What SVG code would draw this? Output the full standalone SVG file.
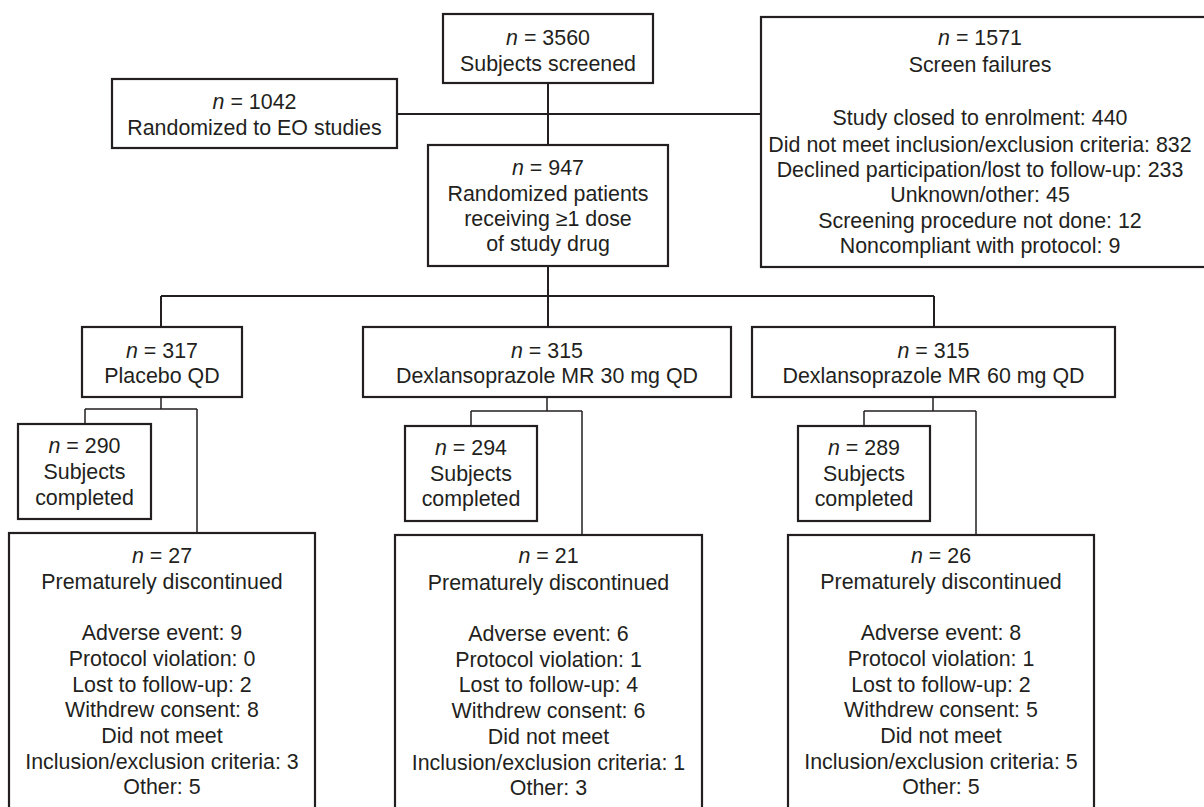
<svg xmlns="http://www.w3.org/2000/svg" width="1204" height="807" viewBox="0 0 1204 807">
<style>
.box{fill:#fff;stroke:#231f20;stroke-width:2.2}
.t{font-family:"Liberation Sans",Arial,Helvetica,sans-serif;font-size:21.4px;fill:#231f20;text-anchor:middle}
.i{font-style:italic}
.c{fill:none;stroke:#231f20;stroke-width:2}
.s{fill:none;stroke:#231f20;stroke-width:1.5}
</style>
<rect width="1204" height="807" fill="#fff"/>
<g id="connectors">
<path class="c" d="M548 83V145M397 114H761M548 266V327M161 296H934M161 296V327M934 296V327"/>
<path class="s" d="M161 397V409M85 409H197M85 409V424M197 409V533"/>
<path class="s" d="M547 397V411M471 411H582M471 411V426M582 411V535"/>
<path class="s" d="M933 397V411M864 411H976M864 411V426M976 411V535"/>
</g>
<g id="screened">
<rect class="box" x="443" y="14" width="210" height="69"/>
<text class="t" x="548" y="45"><tspan class="i">n</tspan> = 3560</text>
<text class="t" x="548" y="71">Subjects screened</text>
</g>
<g id="eo">
<rect class="box" x="112" y="79" width="285" height="69"/>
<text class="t" x="254.5" y="109"><tspan class="i">n</tspan> = 1042</text>
<text class="t" x="254.5" y="135">Randomized to EO studies</text>
</g>
<g id="failures">
<rect class="box" x="761" y="17" width="446" height="250"/>
<text class="t" x="980" y="45"><tspan class="i">n</tspan> = 1571</text>
<text class="t" x="980" y="71.5">Screen failures</text>
<text class="t" x="980" y="125">Study closed to enrolment: 440</text>
<text class="t" x="980" y="151.5">Did not meet inclusion/exclusion criteria: 832</text>
<text class="t" x="980" y="177">Declined participation/lost to follow-up: 233</text>
<text class="t" x="980" y="202">Unknown/other: 45</text>
<text class="t" x="980" y="228">Screening procedure not done: 12</text>
<text class="t" x="980" y="253">Noncompliant with protocol: 9</text>
</g>
<g id="randomized">
<rect class="box" x="428" y="145" width="240" height="121"/>
<text class="t" x="548" y="175"><tspan class="i">n</tspan> = 947</text>
<text class="t" x="548" y="201">Randomized patients</text>
<text class="t" x="548" y="226">receiving ≥1 dose</text>
<text class="t" x="548" y="251">of study drug</text>
</g>
<g id="placebo">
<rect class="box" x="82" y="327" width="160" height="70"/>
<text class="t" x="162" y="358"><tspan class="i">n</tspan> = 317</text>
<text class="t" x="162" y="383">Placebo QD</text>
</g>
<g id="dex30">
<rect class="box" x="363" y="327" width="368" height="70"/>
<text class="t" x="547" y="358"><tspan class="i">n</tspan> = 315</text>
<text class="t" x="547" y="383">Dexlansoprazole MR 30 mg QD</text>
</g>
<g id="dex60">
<rect class="box" x="752" y="327" width="363" height="70"/>
<text class="t" x="933.5" y="358"><tspan class="i">n</tspan> = 315</text>
<text class="t" x="933.5" y="383">Dexlansoprazole MR 60 mg QD</text>
</g>
<g id="comp-placebo">
<rect class="box" x="18" y="424" width="133" height="95"/>
<text class="t" x="84.5" y="453"><tspan class="i">n</tspan> = 290</text>
<text class="t" x="84.5" y="479">Subjects</text>
<text class="t" x="84.5" y="505">completed</text>
</g>
<g id="comp-dex30">
<rect class="box" x="405" y="426" width="132" height="95"/>
<text class="t" x="471" y="455"><tspan class="i">n</tspan> = 294</text>
<text class="t" x="471" y="481">Subjects</text>
<text class="t" x="471" y="506">completed</text>
</g>
<g id="comp-dex60">
<rect class="box" x="798" y="426" width="132" height="95"/>
<text class="t" x="864" y="455"><tspan class="i">n</tspan> = 289</text>
<text class="t" x="864" y="481">Subjects</text>
<text class="t" x="864" y="506">completed</text>
</g>
<g id="disc-placebo">
<rect class="box" x="9" y="533" width="306" height="290"/>
<text class="t" x="162" y="563"><tspan class="i">n</tspan> = 27</text>
<text class="t" x="162" y="588.5">Prematurely discontinued</text>
<text class="t" x="162" y="640">Adverse event: 9</text>
<text class="t" x="162" y="666">Protocol violation: 0</text>
<text class="t" x="162" y="691.5">Lost to follow-up: 2</text>
<text class="t" x="162" y="717">Withdrew consent: 8</text>
<text class="t" x="162" y="743">Did not meet</text>
<text class="t" x="162" y="768.5">Inclusion/exclusion criteria: 3</text>
<text class="t" x="162" y="794">Other: 5</text>
</g>
<g id="disc-dex30">
<rect class="box" x="395" y="535" width="307" height="290"/>
<text class="t" x="548.5" y="563"><tspan class="i">n</tspan> = 21</text>
<text class="t" x="548.5" y="590">Prematurely discontinued</text>
<text class="t" x="548.5" y="640.5">Adverse event: 6</text>
<text class="t" x="548.5" y="666.5">Protocol violation: 1</text>
<text class="t" x="548.5" y="692">Lost to follow-up: 4</text>
<text class="t" x="548.5" y="717.5">Withdrew consent: 6</text>
<text class="t" x="548.5" y="743.5">Did not meet</text>
<text class="t" x="548.5" y="769.5">Inclusion/exclusion criteria: 1</text>
<text class="t" x="548.5" y="795">Other: 3</text>
</g>
<g id="disc-dex60">
<rect class="box" x="788" y="535" width="306" height="290"/>
<text class="t" x="941" y="563"><tspan class="i">n</tspan> = 26</text>
<text class="t" x="941" y="588.5">Prematurely discontinued</text>
<text class="t" x="941" y="639.5">Adverse event: 8</text>
<text class="t" x="941" y="666">Protocol violation: 1</text>
<text class="t" x="941" y="691.5">Lost to follow-up: 2</text>
<text class="t" x="941" y="716.5">Withdrew consent: 5</text>
<text class="t" x="941" y="743">Did not meet</text>
<text class="t" x="941" y="769">Inclusion/exclusion criteria: 5</text>
<text class="t" x="941" y="793.5">Other: 5</text>
</g>
</svg>
